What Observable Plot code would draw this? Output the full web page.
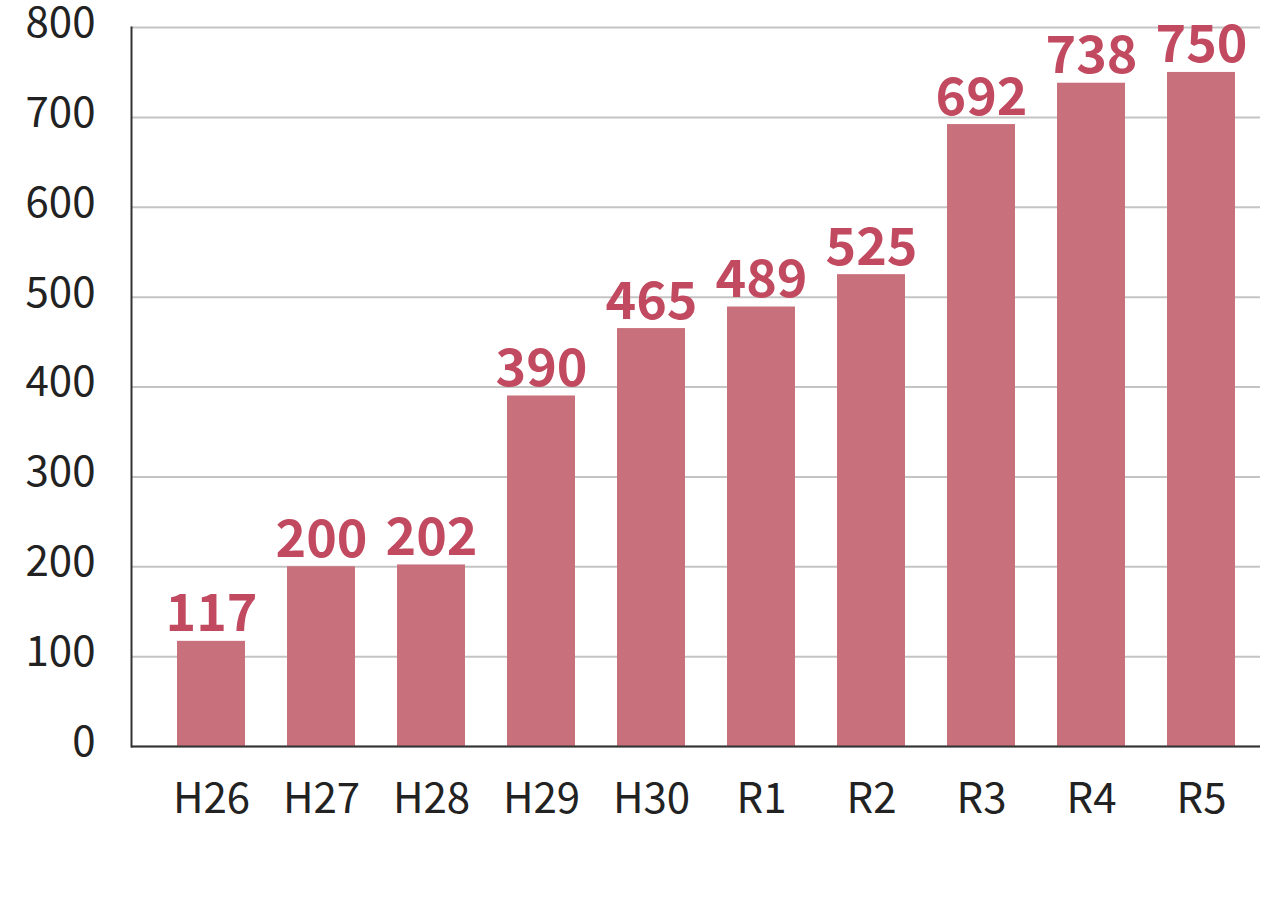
<!DOCTYPE html>
<html><head><meta charset="utf-8">
<script src="https://cdn.jsdelivr.net/npm/d3@7"></script>
<script src="https://cdn.jsdelivr.net/npm/@observablehq/plot@0.6"></script>
<style>html,body{margin:0;padding:0;background:#fff}</style>
</head><body><div id="chart"></div>
<script>
const years = ["H26", "H27", "H28", "H29", "H30", "R1", "R2", "R3", "R4", "R5"];
const counts = [117, 200, 202, 390, 465, 489, 525, 692, 738, 750];
const yTicks = [0, 100, 200, 300, 400, 500, 600, 700, 800];

const data = years.map((year, i) => ({year, count: counts[i]}));

const chart = Plot.plot({
  width: 1270,
  height: 908,
  marginLeft: 131,
  marginRight: 10,
  marginTop: 27,
  marginBottom: 162,
  style: {fontFamily: "'Noto Sans CJK JP', 'Noto Sans', sans-serif", background: "#fff", color: "#222"},
  x: {domain: years, paddingInner: 0.38, paddingOuter: 0.19, insetLeft: 21, label: null},
  y: {domain: [0, 800], label: null},
  marks: [
    Plot.gridY(yTicks, {stroke: "#c4c4c4", strokeOpacity: 1, strokeWidth: 2}),
    Plot.barY(data, {x: "year", y: "count", fill: "#c8707b"}),
    Plot.text(data, {x: "year", y: "count", text: d => String(d.count), lineAnchor: "bottom", dy: -10,
      fill: "#c24a60", fontSize: 52, fontWeight: "bold"}),
    Plot.axisY(yTicks, {tickSize: 0, tickPadding: 36, fontSize: 42, fill: "#222", dy: -4}),
    Plot.axisX({tickSize: 0, tickPadding: 37, fontSize: 42, fill: "#222"}),
    Plot.ruleY([0], {stroke: "#333", strokeWidth: 2}),
    Plot.frame({anchor: "left", stroke: "#333", strokeWidth: 2})
  ]
});
document.getElementById("chart").appendChild(chart);
</script>
</body></html>
